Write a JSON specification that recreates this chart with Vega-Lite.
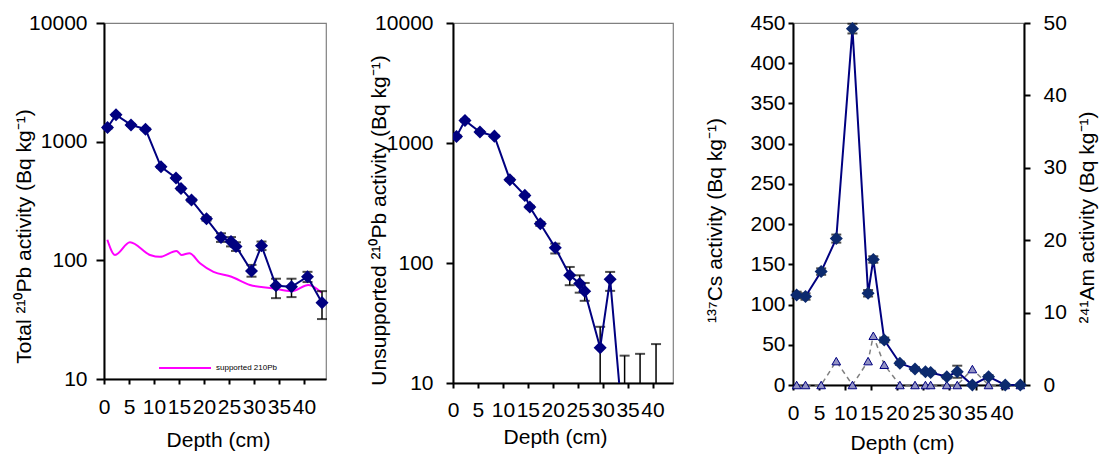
{
  "$schema": "https://vega.github.io/schema/vega-lite/v6.json",
  "background": "white",
  "padding": {"left": 12, "top": 11, "right": 5, "bottom": 5},
  "config": {
    "font": "Liberation Sans",
    "view": {"stroke": "#808080", "strokeWidth": 1.2},
    "axis": {
      "domainColor": "black", "domainWidth": 2, "tickColor": "black", "tickWidth": 2,
      "labelColor": "black", "titleColor": "black", "labelFont": "Liberation Sans", "titleFont": "Liberation Sans",
      "labelFontSize": 21, "titleFontSize": 21, "titleFontWeight": "normal", "grid": false,
      "labelFlush": false, "labelOverlap": false, "labelBound": false
    }
  },
  "datasets": {
    "pbt": [
      {"d": 0.7, "v": 1315, "lo": 1290, "hi": 1340},
      {"d": 2.4, "v": 1683, "lo": 1650, "hi": 1716},
      {"d": 5.4, "v": 1384, "lo": 1357, "hi": 1411},
      {"d": 8.3, "v": 1274, "lo": 1249, "hi": 1299},
      {"d": 11.4, "v": 614, "lo": 602, "hi": 626},
      {"d": 14.4, "v": 495, "lo": 485, "hi": 505},
      {"d": 15.4, "v": 403, "lo": 395, "hi": 411},
      {"d": 17.5, "v": 322, "lo": 314, "hi": 330},
      {"d": 20.5, "v": 224, "lo": 216, "hi": 232},
      {"d": 23.4, "v": 156, "lo": 143, "hi": 169},
      {"d": 25.4, "v": 144, "lo": 131, "hi": 157},
      {"d": 26.4, "v": 131, "lo": 120, "hi": 142},
      {"d": 29.5, "v": 81.3, "lo": 72.8, "hi": 91.5},
      {"d": 31.5, "v": 133, "lo": 122, "hi": 144},
      {"d": 34.4, "v": 61, "lo": 48, "hi": 70},
      {"d": 37.5, "v": 59.8, "lo": 49, "hi": 70},
      {"d": 40.7, "v": 72.8, "lo": 65.6, "hi": 80},
      {"d": 43.6, "v": 44, "lo": 32, "hi": 55}
    ],
    "sup": [
      {"d": 0.67, "v": 149}, {"d": 2.2, "v": 111}, {"d": 5.2, "v": 142}, {"d": 9.2, "v": 111},
      {"d": 11.2, "v": 107}, {"d": 14.5, "v": 120}, {"d": 15.5, "v": 111}, {"d": 17.1, "v": 115},
      {"d": 19.2, "v": 94.5}, {"d": 21.9, "v": 80}, {"d": 25.5, "v": 72.8}, {"d": 29.2, "v": 62},
      {"d": 33.9, "v": 58}, {"d": 37.5, "v": 55}, {"d": 40.9, "v": 62}, {"d": 43.5, "v": 53.6}
    ],
    "pbu": [
      {"d": 0.7, "v": 1135, "lo": 1113, "hi": 1157},
      {"d": 2.4, "v": 1542, "lo": 1512, "hi": 1572},
      {"d": 5.4, "v": 1233, "lo": 1209, "hi": 1257},
      {"d": 8.3, "v": 1141, "lo": 1119, "hi": 1163},
      {"d": 11.4, "v": 494, "lo": 484, "hi": 504},
      {"d": 14.4, "v": 366, "lo": 358, "hi": 374},
      {"d": 15.4, "v": 293, "lo": 286, "hi": 300},
      {"d": 17.5, "v": 212, "lo": 204, "hi": 220},
      {"d": 20.5, "v": 134, "lo": 120, "hi": 145},
      {"d": 23.4, "v": 79, "lo": 65.3, "hi": 92.7},
      {"d": 25.4, "v": 67.5, "lo": 56.6, "hi": 79},
      {"d": 26.4, "v": 58.2, "lo": 48.4, "hi": 68.2},
      {"d": 29.5, "v": 19.7, "lo": 1, "hi": 29.4},
      {"d": 31.5, "v": 73.3, "lo": 58.6, "hi": 84.3},
      {"d": 34.4, "v": 3, "lo": 1, "hi": 16.9},
      {"d": 37.5, "v": null, "lo": 1, "hi": 17.5},
      {"d": 40.7, "v": null, "lo": 1, "hi": 21.1},
      {"d": 43.6, "v": null, "lo": null, "hi": null}
    ],
    "cs": [
      {"d": 0.7, "cs": 112, "lo": 108, "hi": 116, "am": 0},
      {"d": 2.4, "cs": 110, "lo": 106, "hi": 114, "am": 0},
      {"d": 5.4, "cs": 141, "lo": 137, "hi": 145, "am": 0},
      {"d": 8.3, "cs": 182, "lo": 177, "hi": 187, "am": 3.3},
      {"d": 11.4, "cs": 443, "lo": 437, "hi": 449, "am": 0},
      {"d": 14.4, "cs": 114, "lo": 110, "hi": 118, "am": 3.3},
      {"d": 15.4, "cs": 156, "lo": 152, "hi": 160, "am": 6.8},
      {"d": 17.5, "cs": 56, "lo": 53, "hi": 59, "am": 2.8},
      {"d": 20.5, "cs": 27, "lo": 25, "hi": 29, "am": 0},
      {"d": 23.4, "cs": 20, "lo": 18, "hi": 22, "am": 0},
      {"d": 25.4, "cs": 16.5, "lo": 14.5, "hi": 18.5, "am": 0},
      {"d": 26.4, "cs": 15.6, "lo": 13.6, "hi": 17.6, "am": 0},
      {"d": 29.5, "cs": 10.3, "lo": 8.3, "hi": 12.3, "am": 0},
      {"d": 31.5, "cs": 16.5, "lo": 9, "hi": 24, "am": 0},
      {"d": 34.4, "cs": 0, "lo": 0, "hi": 0, "am": 2.2},
      {"d": 37.5, "cs": 10.3, "lo": 8.3, "hi": 12.3, "am": 0},
      {"d": 40.7, "cs": 0, "lo": 0, "hi": 0, "am": 0},
      {"d": 43.6, "cs": 0, "lo": 0, "hi": 0, "am": 0}
    ]
  },
  "bounds": "flush",
  "spacing": 127,
  "hconcat": [
    {
      "width": 222,
      "height": 356,
      "encoding": {
        "x": {"field": "d", "type": "quantitative", "scale": {"domain": [0, 44.4], "nice": false, "zero": false},
          "axis": {"values": [0, 5, 10, 15, 20, 25, 30, 35, 40], "labelOverlap": false, "title": "Depth (cm)", "tickSize": 5, "labelPadding": 12, "titlePadding": 12, "titleX": 114}}
      },
      "layer": [
        {
          "data": {"name": "sup"},
          "mark": {"type": "line", "interpolate": "monotone", "strokeWidth": 2},
          "encoding": {
            "y": {"field": "v", "type": "quantitative", "scale": {"type": "log", "domain": [10, 10000], "nice": false},
              "axis": {"values": [10, 100, 1000, 10000], "format": "d", "title": "Total ²¹⁰Pb activity (Bq kg⁻¹)", "tickSize": 8, "labelPadding": 9, "titleX": -74, "titleY": 213, "titleBaseline": "alphabetic", "titleAngle": 270}},
            "color": {"datum": "supported 210Pb", "type": "nominal", "scale": {"range": ["#FF00FF"]},
              "legend": {"title": null, "orient": "none", "legendX": 54, "legendY": 318, "symbolType": "stroke", "symbolSize": 2704, "symbolStrokeWidth": 2, "labelFontSize": 8, "labelFont": "Liberation Sans", "labelColor": "black", "labelOffset": 4, "padding": 0}}
          }
        },
        {
          "data": {"name": "pbt"},
          "mark": {"type": "rule", "color": "black", "strokeWidth": 1.5},
          "encoding": {"y": {"field": "lo", "type": "quantitative"}, "y2": {"field": "hi"}}
        },
        {
          "data": {"name": "pbt"},
          "mark": {"type": "tick", "orient": "horizontal", "color": "black", "size": 10, "thickness": 2},
          "encoding": {"y": {"field": "hi", "type": "quantitative"}}
        },
        {
          "data": {"name": "pbt"},
          "mark": {"type": "tick", "orient": "horizontal", "color": "black", "size": 10, "thickness": 2},
          "encoding": {"y": {"field": "lo", "type": "quantitative"}}
        },
        {
          "data": {"name": "pbt"},
          "mark": {"type": "line", "color": "#000080", "strokeWidth": 2},
          "encoding": {"y": {"field": "v", "type": "quantitative"}}
        },
        {
          "data": {"name": "pbt"},
          "mark": {"type": "point", "shape": "diamond", "filled": true, "color": "#000080", "size": 170, "opacity": 1},
          "encoding": {"y": {"field": "v", "type": "quantitative"}}
        },
        {
          "data": {"values": [{}]},
          "mark": {"type": "text", "text": "a", "fontSize": 25, "baseline": "middle", "align": "center", "color": "black"},
          "encoding": {"x": {"datum": 39.7}, "y": {"datum": 6730}}
        }
      ]
    },
    {
      "bounds": "flush",
      "spacing": 120,
      "hconcat": [
        {
          "width": 220,
          "height": 360,
          "encoding": {
            "x": {"field": "d", "type": "quantitative", "scale": {"domain": [0, 44.1], "nice": false, "zero": false},
              "axis": {"values": [0, 5, 10, 15, 20, 25, 30, 35, 40], "labelOverlap": false, "title": "Depth (cm)", "tickSize": 5, "labelPadding": 11, "titlePadding": 6, "titleX": 102}}
          },
          "layer": [
            {
              "data": {"name": "pbu"},
              "mark": {"type": "rule", "color": "black", "strokeWidth": 1.5, "clip": true},
              "encoding": {
                "y": {"field": "lo", "type": "quantitative", "scale": {"type": "log", "domain": [10, 10000], "nice": false},
                  "axis": {"values": [10, 100, 1000, 10000], "format": "d", "title": "Unsupported ²¹⁰Pb activity (Bq kg⁻¹)", "tickSize": 7, "labelPadding": 13, "titleX": -68, "titleY": 197, "titleBaseline": "alphabetic", "titleAngle": 270}},
                "y2": {"field": "hi"}
              }
            },
            {
              "data": {"name": "pbu"},
              "mark": {"type": "tick", "orient": "horizontal", "color": "black", "size": 10, "thickness": 2, "clip": true},
              "encoding": {"y": {"field": "hi", "type": "quantitative"}}
            },
            {
              "data": {"name": "pbu"},
              "mark": {"type": "tick", "orient": "horizontal", "color": "black", "size": 10, "thickness": 2, "clip": true},
              "encoding": {"y": {"field": "lo", "type": "quantitative"}}
            },
            {
              "data": {"name": "pbu"},
              "mark": {"type": "line", "color": "#000080", "strokeWidth": 2, "clip": true},
              "encoding": {"y": {"field": "v", "type": "quantitative"}}
            },
            {
              "data": {"name": "pbu"},
              "mark": {"type": "point", "shape": "diamond", "filled": true, "color": "#000080", "size": 170, "opacity": 1, "clip": true},
              "encoding": {"y": {"field": "v", "type": "quantitative"}}
            },
            {
              "data": {"values": [{}]},
              "mark": {"type": "text", "text": "b", "fontSize": 25, "baseline": "middle", "align": "center", "color": "black"},
              "encoding": {"x": {"datum": 40.1}, "y": {"datum": 6290}}
            }
          ]
        },
        {
          "width": 231,
          "height": 362,
          "encoding": {
            "x": {"field": "d", "type": "quantitative", "scale": {"domain": [0, 44.3], "nice": false, "zero": false},
              "axis": {"values": [0, 5, 10, 15, 20, 25, 30, 35, 40], "labelOverlap": false, "title": "Depth (cm)", "tickSize": 5, "labelPadding": 12, "titlePadding": 9, "titleX": 109}}
          },
          "layer": [
            {
              "layer": [
                {
                  "data": {"name": "cs"},
                  "mark": {"type": "line", "color": "#808080", "strokeWidth": 1.5, "strokeDash": [5, 4]},
                  "encoding": {
                    "y": {"field": "am", "type": "quantitative", "scale": {"domain": [0, 50], "nice": false},
                      "axis": {"orient": "right", "values": [0, 10, 20, 30, 40, 50], "title": "²⁴¹Am activity (Bq kg⁻¹)", "tickSize": 6, "labelPadding": 13, "titleX": 69, "titleY": 194, "titleBaseline": "alphabetic", "titleAngle": 270, "titleAlign": "center"}}
                  }
                },
                {
                  "data": {"name": "cs"},
                  "mark": {"type": "point", "shape": "triangle-up", "filled": true, "fill": "#9393c4", "stroke": "#000080", "strokeWidth": 1, "size": 75, "opacity": 1},
                  "encoding": {"y": {"field": "am", "type": "quantitative"}}
                }
              ]
            },
            {
              "layer": [
                {
                  "data": {"name": "cs"},
                  "mark": {"type": "rule", "color": "black", "strokeWidth": 1.5},
                  "encoding": {
                    "y": {"field": "lo", "type": "quantitative", "scale": {"domain": [0, 450], "nice": false},
                      "axis": {"orient": "left", "values": [0, 50, 100, 150, 200, 250, 300, 350, 400, 450], "title": "¹³⁷Cs activity (Bq kg⁻¹)", "tickSize": 5, "labelPadding": 3, "titleX": -72, "titleY": 197, "titleBaseline": "alphabetic", "titleAngle": 270}},
                    "y2": {"field": "hi"}
                  }
                },
                {
                  "data": {"name": "cs"},
                  "mark": {"type": "tick", "orient": "horizontal", "color": "black", "size": 10, "thickness": 2},
                  "encoding": {"y": {"field": "hi", "type": "quantitative"}}
                },
                {
                  "data": {"name": "cs"},
                  "mark": {"type": "tick", "orient": "horizontal", "color": "black", "size": 10, "thickness": 2},
                  "encoding": {"y": {"field": "lo", "type": "quantitative"}}
                },
                {
                  "data": {"name": "cs"},
                  "mark": {"type": "line", "color": "#000080", "strokeWidth": 2},
                  "encoding": {"y": {"field": "cs", "type": "quantitative"}}
                },
                {
                  "data": {"name": "cs"},
                  "mark": {"type": "point", "shape": "diamond", "filled": true, "color": "#0c2a6e", "size": 170, "opacity": 1},
                  "encoding": {"y": {"field": "cs", "type": "quantitative"}}
                },
                {
                  "data": {"values": [{}]},
                  "mark": {"type": "text", "text": "c", "fontSize": 25, "baseline": "middle", "align": "center", "color": "black"},
                  "encoding": {"x": {"datum": 40}, "y": {"datum": 420}}
                }
              ]
            }
          ],
          "resolve": {"scale": {"y": "independent"}}
        }
      ]
    }
  ]
}
